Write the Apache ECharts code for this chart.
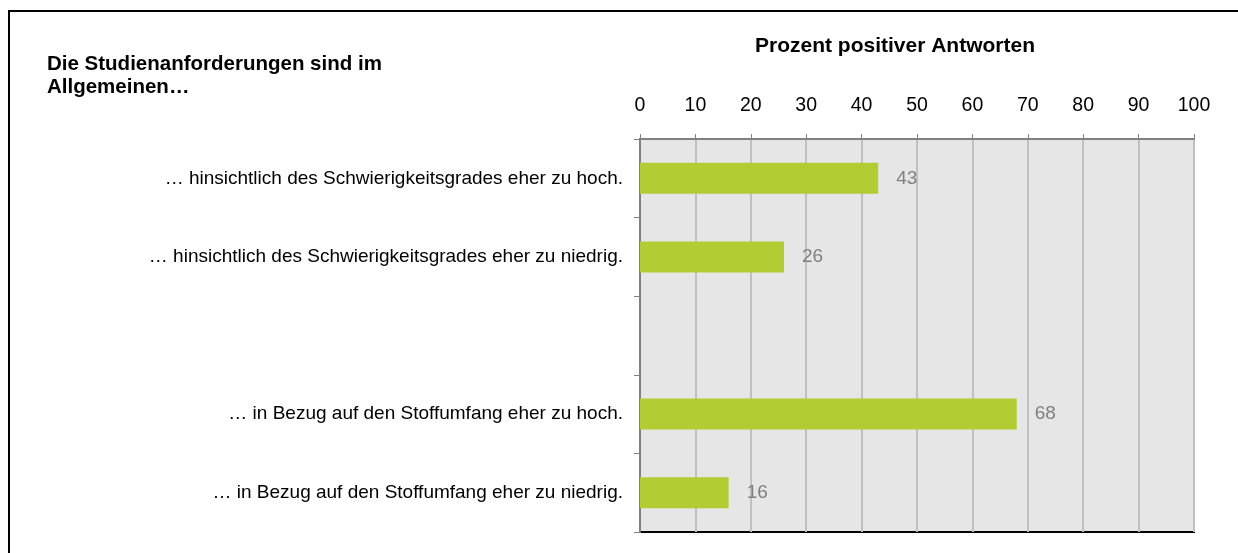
<!DOCTYPE html>
<html>
<head>
<meta charset="utf-8">
<script src="https://cdn.jsdelivr.net/npm/echarts@6/dist/echarts.min.js"></script>
<style>
html,body{margin:0;padding:0;background:#fff;}
#c{width:1238px;height:553px;}
</style>
</head>
<body>
<div id="c"></div>
<script>
const categories = [
  '… hinsichtlich des Schwierigkeitsgrades eher zu hoch.',
  '… hinsichtlich des Schwierigkeitsgrades eher zu niedrig.',
  '',
  '… in Bezug auf den Stoffumfang eher zu hoch.',
  '… in Bezug auf den Stoffumfang eher zu niedrig.'
];
const values = [43, 26, null, 68, 16];
const xTicks = [0, 10, 20, 30, 40, 50, 60, 70, 80, 90, 100];
const axisTitle = 'Prozent positiver Antworten';
const sideTitle = 'Die Studienanforderungen sind im\nAllgemeinen…';

const chart = echarts.init(document.getElementById('c'), null, {renderer: 'canvas'});
const font = 'Liberation Sans, Arial, sans-serif';
chart.setOption({
  animation: false,
  textStyle: {fontFamily: font},
  title: [
    {text: axisTitle, left: 895, top: 36, textAlign: 'center', padding: 0,
     textStyle: {fontFamily: font, fontSize: 21, fontWeight: 'bold', color: '#000'}},
    {text: sideTitle, left: 47, top: 53, padding: 0,
     textStyle: {fontFamily: font, fontSize: 20.5, fontWeight: 'bold', color: '#000', lineHeight: 23}}
  ],
  graphic: [
    {type: 'polyline', shape: {points: [[9, 560], [9, 11], [1245, 11]]},
     style: {stroke: '#000', lineWidth: 2, fill: null}}
  ],
  grid: {left: 640, top: 139, right: 44, bottom: 21, show: true,
         backgroundColor: '#e6e6e6', borderColor: '#000', borderWidth: 2},
  xAxis: {
    type: 'value', position: 'top', min: 0, max: 100, interval: 10,
    axisLine: {show: true, lineStyle: {color: '#808080', width: 2}},
    axisTick: {show: true, length: 5, lineStyle: {color: '#808080', width: 1}},
    splitLine: {show: true, lineStyle: {color: '#c0c0c0', width: 2}},
    axisLabel: {margin: 23, fontSize: 19.5, color: '#000', fontFamily: font,
      formatter: v => xTicks.includes(v) ? String(v) : ''}
  },
  yAxis: {
    type: 'category', inverse: true, data: categories,
    axisLine: {show: true, lineStyle: {color: '#808080', width: 2}},
    axisTick: {show: true, length: 6, lineStyle: {color: '#808080', width: 1}},
    axisLabel: {margin: 17, fontSize: 19, color: '#000', fontFamily: font}
  },
  series: [{
    type: 'bar', data: values, barWidth: 31,
    itemStyle: {color: '#b2cc33'},
    label: {show: true, position: 'right', distance: 18, fontSize: 19,
            color: '#808080', fontFamily: font}
  }]
});
</script>
</body>
</html>
